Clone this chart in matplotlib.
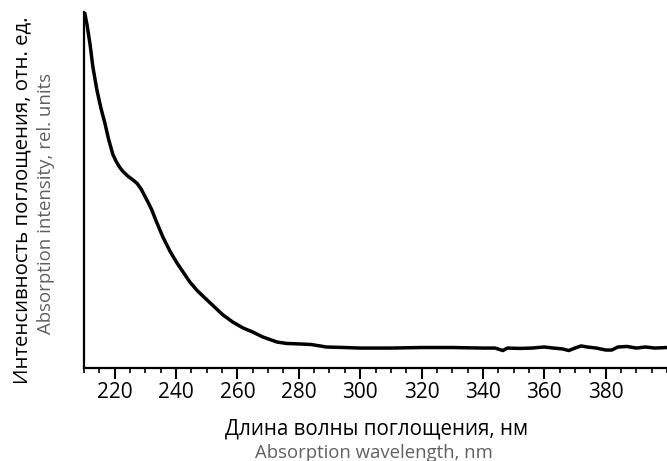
import numpy as np
import matplotlib.pyplot as plt
from matplotlib.ticker import MultipleLocator

plt.rcParams['font.family'] = ['Open Sans', 'DejaVu Sans']

# спектр поглощения (нм, отн. ед.)
wavelength = [210.3, 211.0, 212.0, 212.9, 214.2, 215.5, 216.8, 218.0, 219.4, 220.5,
              221.6, 222.7, 224.5, 226.0, 227.3, 228.6, 229.9, 231.0, 232.1, 233.5,
              235.7, 238.0, 240.3, 244.5, 247.0, 250.1, 255.3, 258.5, 261.8, 265.0,
              268.3, 272.9, 276.0, 280.4, 284.0, 289.0, 295.0, 300.0, 310.0, 320.0,
              330.0, 340.0, 344.0, 346.5, 348.0, 352.0, 356.0, 360.0, 363.0, 366.0,
              368.0, 370.0, 372.0, 374.0, 377.0, 380.0, 382.0, 384.0, 387.0, 390.0,
              393.0, 396.0, 400.0]
intensity = [1.989, 1.927, 1.815, 1.691, 1.562, 1.461, 1.376, 1.286, 1.200, 1.160,
             1.128, 1.104, 1.075, 1.056, 1.037, 1.006, 0.963, 0.927, 0.888, 0.826,
             0.736, 0.657, 0.590, 0.483, 0.433, 0.382, 0.298, 0.258, 0.225, 0.202,
             0.174, 0.146, 0.138, 0.135, 0.132, 0.118, 0.115, 0.112, 0.112, 0.115,
             0.115, 0.112, 0.112, 0.098, 0.112, 0.110, 0.112, 0.118, 0.112, 0.107,
             0.098, 0.112, 0.124, 0.118, 0.112, 0.101, 0.101, 0.118, 0.121, 0.112,
             0.118, 0.112, 0.115]

xlabel_ru = 'Длина волны поглощения, нм'
xlabel_en = 'Absorption wavelength, nm'
ylabel_ru = 'Интенсивность поглощения, отн. ед.'
ylabel_en = 'Absorption intensity, rel. units'
gray = '#606060'

fig = plt.figure(figsize=(6.67, 4.61), dpi=100)
ax = fig.add_axes([84/667, 1 - 368/461, 1 - 84/667, (368 - 12)/461])

ax.plot(wavelength, intensity, color='black', lw=2.5, solid_joinstyle='round')

ax.set_xlim(210, 400)
ax.set_ylim(0, 2.0)
ax.xaxis.set_minor_locator(MultipleLocator(5))
ax.set_xticks([220, 240, 260, 280, 300, 320, 340, 360, 380])
ax.set_yticks([])
ax.tick_params(axis='x', which='major', length=8, width=1.5, direction='out', labelsize=15, pad=2)
ax.tick_params(axis='x', which='minor', length=3.8, width=1.2, direction='out')

for s in ['top', 'right']:
    ax.spines[s].set_visible(False)
for s in ['left', 'bottom']:
    ax.spines[s].set_linewidth(1.6)

# подписи осей: русский + английский серым
fig.text(377/667, 1 - 434/461, xlabel_ru, ha='center', va='baseline', fontsize=14.8, color='black')
fig.text(374/667, 1 - 458/461, xlabel_en, ha='center', va='baseline', fontsize=13.3, color=gray)
fig.text(27/667, 1 - 200/461, ylabel_ru, ha='center', va='baseline', rotation=90,
         rotation_mode='anchor', fontsize=14.7, color='black')
fig.text(51/667, 1 - 203/461, ylabel_en, ha='center', va='baseline', rotation=90,
         rotation_mode='anchor', fontsize=13.4, color=gray)

fig.savefig('out.png', dpi=100)
